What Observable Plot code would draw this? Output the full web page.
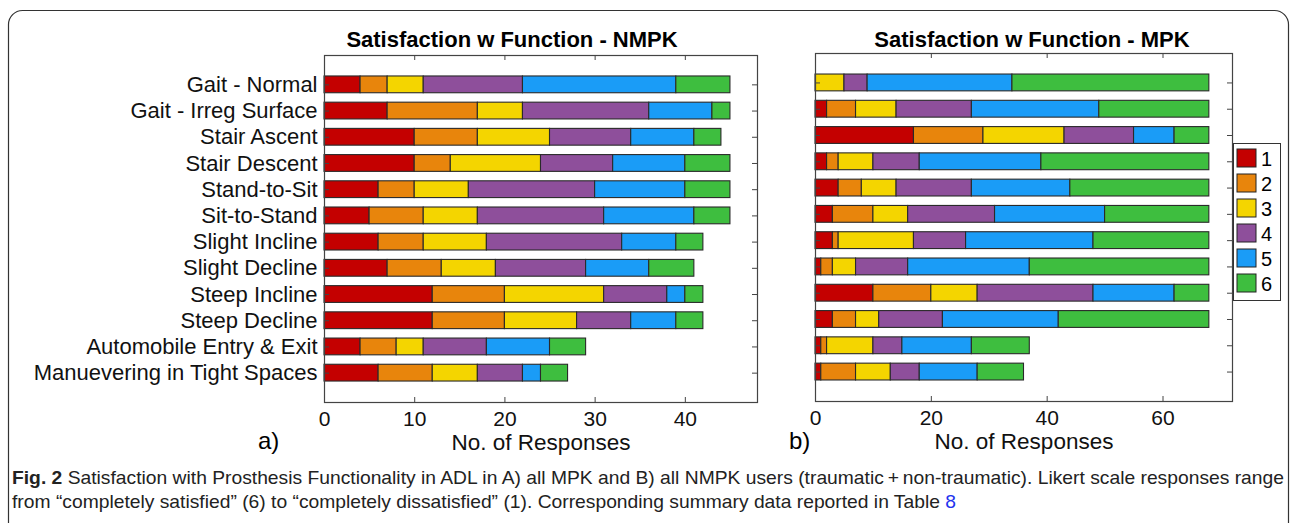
<!DOCTYPE html>
<html><head><meta charset="utf-8">
<script src="https://cdn.jsdelivr.net/npm/d3@7"></script>
<script src="https://cdn.jsdelivr.net/npm/@observablehq/plot@0.6"></script>
<style>
body{margin:0;background:#fff;}
#root{position:relative;width:1295px;height:523px;overflow:hidden;background:#fff;}
#root > svg{position:absolute;}
</style></head><body><div id="root"></div>
<script>
const tasks = ["Gait - Normal","Gait - Irreg Surface","Stair Ascent","Stair Descent","Stand-to-Sit","Sit-to-Stand","Slight Incline","Slight Decline","Steep Incline","Steep Decline","Automobile Entry & Exit","Manuevering in Tight Spaces"];
const levels = [1,2,3,4,5,6];
const levelColors = ["#C40000","#E8850C","#F4D500","#8E4F9B","#1A9CF7","#3EBE3F"];
// counts per task for levels 1..6
const nmpk = [[4,3,4,11,17,6],[7,10,5,14,7,2],[10,7,8,9,7,3],[10,4,10,8,8,5],[6,4,6,14,10,5],[5,6,6,14,10,4],[6,5,7,15,6,3],[7,6,6,10,7,5],[12,8,11,7,2,2],[12,8,8,6,5,3],[4,4,3,7,7,4],[6,6,5,5,2,3]];
const mpk = [[0,0,5,4,25,34],[2,5,7,13,22,19],[17,12,14,12,7,6],[2,2,6,8,21,29],[4,4,6,13,17,24],[3,7,6,15,19,18],[3,1,13,9,22,20],[1,2,4,9,21,31],[10,10,8,20,14,6],[3,4,4,11,20,26],[1,1,8,5,12,10],[1,6,6,5,10,8]];
const nmpkTicks = [0,10,20,30,40];
const mpkTicks = [0,20,40,60];
const titles = ["Satisfaction w Function - NMPK","Satisfaction w Function - MPK"];
const xLabel = "No. of Responses";
const captionBold = "Fig. 2";
const captionLine1 = "  Satisfaction with Prosthesis Functionality in ADL in A) all MPK and B) all NMPK users (traumatic\u2009+\u2009non-traumatic). Likert scale responses range";
const captionLine2 = "from \u201Ccompletely satisfied\u201D (6) to \u201Ccompletely dissatisfied\u201D (1). Corresponding summary data reported in Table ";
const captionLink = "8";

const FONT = "'Liberation Sans', Arial, Helvetica, sans-serif";
const root = document.getElementById("root");

function panel({counts, xMax, xTicks, left, width, height, mL, mR, mT, mB, showY}) {
  const rows = [];
  tasks.forEach((t, i) => counts[i].forEach((v, j) => { if (v > 0) rows.push({task: t, level: levels[j], value: v}); }));
  const innerW = width - mL - mR, innerH = height - mT - mB;
  const svg = Plot.plot({
    width, height, marginLeft: mL, marginRight: mR, marginTop: mT, marginBottom: mB,
    style: {fontFamily: FONT, fontSize: "22px", color: "#111", background: "transparent", overflow: "visible"},
    x: {domain: [0, xMax]},
    y: showY ? {domain: tasks, paddingInner: 0.36, paddingOuter: 0.8, round: false, tickSize: 0, tickPadding: 7, label: null}
             : {domain: tasks, paddingInner: 0.36, paddingOuter: 0.8, round: false, axis: null},
    color: {domain: levels, range: levelColors},
    marks: [
      Plot.barX(rows, {x: "value", y: "task", fill: "level", stroke: "#2a2a2a", strokeWidth: 1.1}),
      Plot.frame({stroke: "#444", strokeWidth: 1.2}),
      Plot.tickX(xTicks, {x: d => d, insetTop: innerH - 5, stroke: "#444"}),
      Plot.tickX(xTicks, {x: d => d, insetBottom: innerH - 5, stroke: "#444"}),
      Plot.tickY(tasks, {y: d => d, insetRight: innerW - 5, stroke: "#444"}),
      Plot.tickY(tasks, {y: d => d, insetLeft: innerW - 5, stroke: "#444"}),
      Plot.axisX({ticks: xTicks, tickSize: 0, tickPadding: 9, fontSize: 21, label: null}),
      Plot.text([xLabel], {text: d => d, frameAnchor: "bottom", lineAnchor: "middle", dy: 40, fontSize: 22.5, fill: "#111"})
    ]
  });
  svg.style.left = left + "px";
  svg.style.top = "0px";
  root.appendChild(svg);
}

panel({counts: nmpk, xMax: 48, xTicks: nmpkTicks, left: 0, width: 780, height: 470, mL: 324, mR: 23, mT: 55, mB: 68, showY: true});
panel({counts: mpk, xMax: 72, xTicks: mpkTicks, left: 780, width: 480, height: 470, mL: 35, mR: 28, mT: 53, mB: 69, showY: false});

// annotation overlay
const ov = d3.create("svg").attr("width", 1295).attr("height", 523)
  .style("left", "0px").style("top", "0px").style("font-family", FONT);
ov.append("rect").attr("x", 8.5).attr("y", 10.5).attr("width", 1280).attr("height", 600).attr("rx", 14)
  .attr("fill", "none").attr("stroke", "#333").attr("stroke-width", 1.2);
ov.append("text").attr("x", 512).attr("y", 47).attr("text-anchor", "middle").attr("font-weight", "bold").attr("font-size", 22).text(titles[0]);
ov.append("text").attr("x", 1032).attr("y", 47).attr("text-anchor", "middle").attr("font-weight", "bold").attr("font-size", 22).text(titles[1]);
ov.append("text").attr("x", 258).attr("y", 449).attr("font-size", 24).text("a)");
ov.append("text").attr("x", 789).attr("y", 449).attr("font-size", 24).text("b)");
// legend
const lg = ov.append("g");
lg.append("rect").attr("x", 1233.5).attr("y", 143.5).attr("width", 47).attr("height", 157).attr("fill", "#fff").attr("stroke", "#333");
levels.forEach((l, i) => {
  const cy = 158 + 25 * i;
  lg.append("rect").attr("x", 1237).attr("y", cy - 9).attr("width", 19).attr("height", 18).attr("fill", levelColors[i]).attr("stroke", "#222");
  lg.append("text").attr("x", 1261).attr("y", cy + 7.5).attr("font-size", 20).text(l);
});
// caption
const cf = "'Liberation Sans Narrow', 'Liberation Sans', Arial, sans-serif";
const c1 = ov.append("text").attr("x", 12).attr("y", 484).attr("font-size", 18.5).attr("font-family", cf).attr("fill", "#222");
c1.append("tspan").attr("font-weight", "bold").text(captionBold);
c1.append("tspan").text(captionLine1);
const c2 = ov.append("text").attr("x", 12).attr("y", 508).attr("font-size", 18.5).attr("font-family", cf).attr("fill", "#222");
c2.append("tspan").text(captionLine2);
c2.append("tspan").attr("fill", "#2233ee").text(captionLink);
root.appendChild(ov.node());
const n1 = c1.node().getComputedTextLength();
const n2 = c2.node().getComputedTextLength();
const k = 1272 / n1;
c1.attr("textLength", 1272).attr("lengthAdjust", "spacingAndGlyphs");
c2.attr("textLength", n2 * k).attr("lengthAdjust", "spacingAndGlyphs");
</script></body></html>
